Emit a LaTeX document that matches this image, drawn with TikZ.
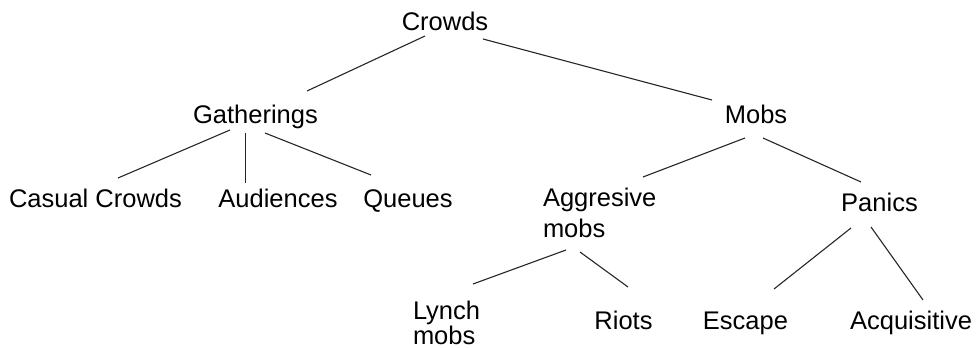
\documentclass[tikz,border=0pt]{standalone}
\usepackage{fontspec}
\setmainfont{Liberation Sans}
\begin{document}
\begin{tikzpicture}[x=1pt, y=-1pt,
  label/.style={inner sep=0pt, outer sep=0pt, font=\fontsize{25.5}{31}\selectfont},
  term/.style={label, anchor=base},
  stacked/.style={label, anchor=base west},
  branch/.style={draw=black!85, line width=1.1pt}]
  \useasboundingbox (0,0) rectangle (980,348);

  % level 0
  \node[term] (crowds) at (445,30) {Crowds};
  % level 1
  \node[term] (gatherings) at (255.5,123) {Gatherings};
  \node[term] (mobs) at (756,123) {Mobs};
  % level 2
  \node[term] (casual) at (95.5,207) {Casual Crowds};
  \node[term] (audiences) at (278,207) {Audiences};
  \node[term] (queues) at (408,207) {Queues};
  \node[stacked] (aggressive) at (543,206)
    {\begin{tabular}[t]{@{}l@{}}Aggresive\\mobs\end{tabular}};
  \node[term] (panics) at (879.5,211) {Panics};
  % level 3
  \node[stacked] (lynch) at (413,319)
    {\begin{tabular}[t]{@{}l@{}}Lynch\\[-6pt]mobs\end{tabular}};
  \node[term] (riots) at (623.5,329) {Riots};
  \node[term] (escape) at (745.5,329) {Escape};
  \node[term] (acquisitive) at (911,329) {Acquisitive};

  % branches
  \draw[branch] ([shift={(-20,6)}]crowds.base) -- ([shift={(51.5,-32)}]gatherings.base);
  \draw[branch] ([shift={(38,9)}]crowds.base) -- ([shift={(-44,-23)}]mobs.base);

  \draw[branch] ([shift={(-25.5,7)}]gatherings.base) -- ([shift={(22.5,-29)}]casual.base);
  \draw[branch] ([shift={(-10,10)}]gatherings.base) -- ([shift={(-32.5,-24)}]audiences.base);
  \draw[branch] ([shift={(9.5,10)}]gatherings.base) -- ([shift={(-37,-32)}]queues.base);

  \draw[branch] ([shift={(-11,15)}]mobs.base) -- ([shift={(100,-29)}]aggressive.base west);
  \draw[branch] ([shift={(7,15)}]mobs.base) -- ([shift={(-18.5,-29)}]panics.base);

  \draw[branch] ([shift={(23,44)}]aggressive.base west) -- ([shift={(60,-35)}]lynch.base west);
  \draw[branch] ([shift={(37,46)}]aggressive.base west) -- ([shift={(4.5,-42)}]riots.base);

  \draw[branch] ([shift={(-28.5,17)}]panics.base) -- ([shift={(28.5,-40)}]escape.base);
  \draw[branch] ([shift={(-8.5,16)}]panics.base) -- ([shift={(12,-29)}]acquisitive.base);
\end{tikzpicture}
\end{document}
